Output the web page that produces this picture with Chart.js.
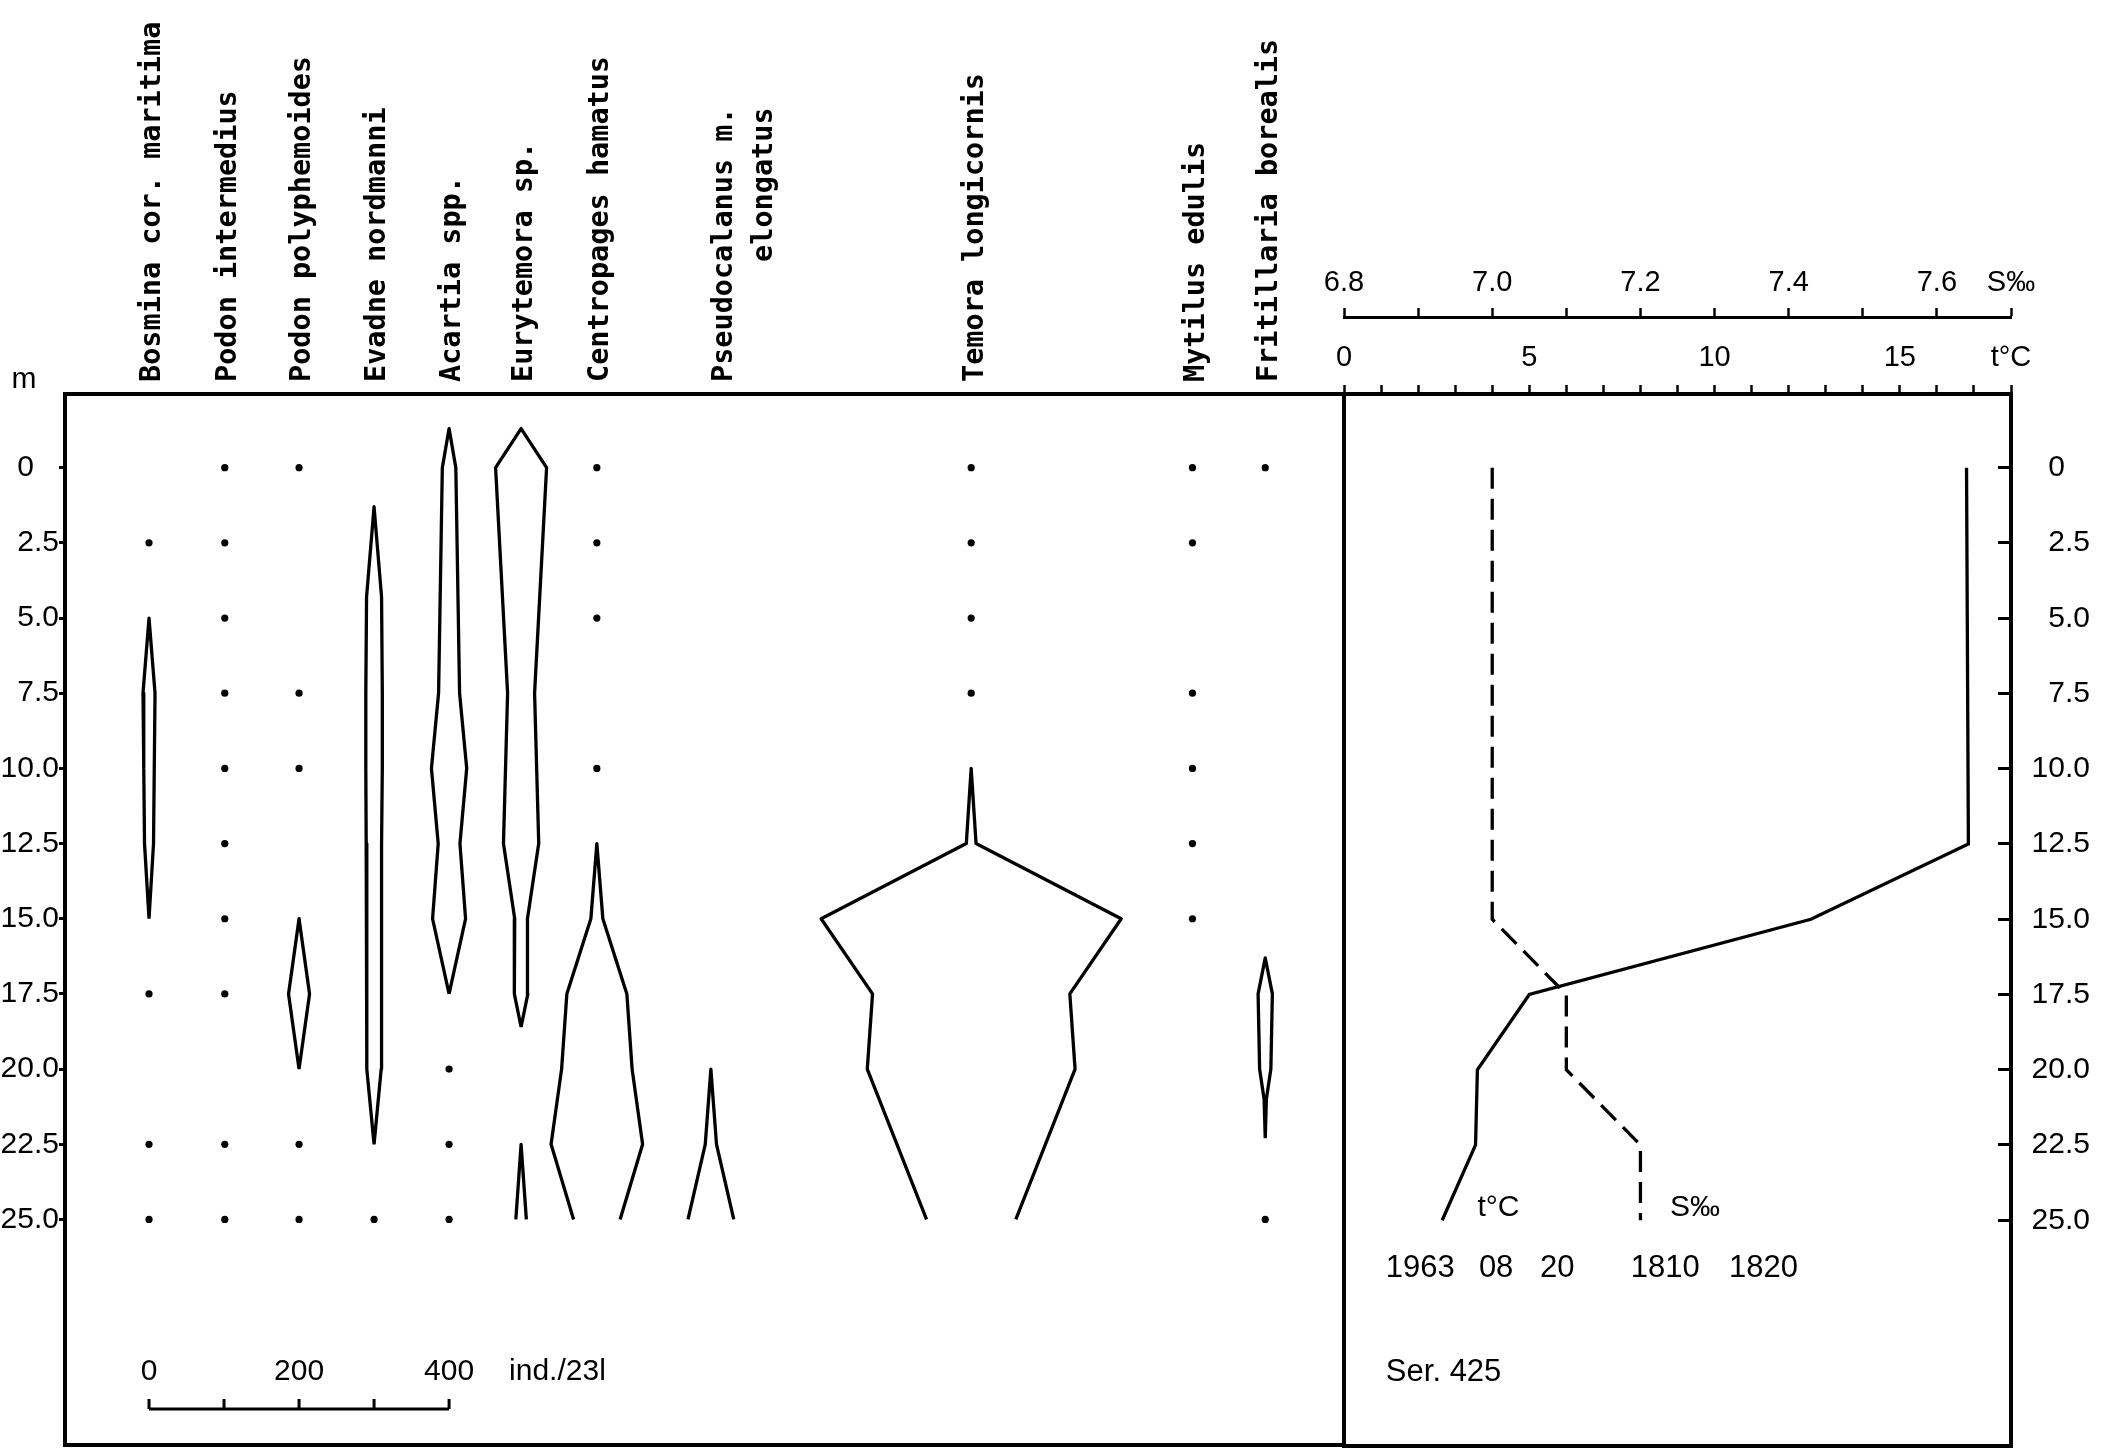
<!DOCTYPE html>
<html>
<head>
<meta charset="utf-8">
<script src="https://cdn.jsdelivr.net/npm/chart.js@4.4.1/dist/chart.umd.min.js"></script>
<style>
  html, body { margin: 0; padding: 0; background: #fff; }
  #wrap { position: relative; width: 2107px; height: 1449px; overflow: hidden; background: #fff; }
  canvas { position: absolute; top: 0; }
</style>
</head>
<body>
<div id="wrap">
  <canvas id="leftChart" width="1350" height="1449" style="left:0px"></canvas>
  <canvas id="rightChart" width="817" height="1449" style="left:1290px"></canvas>
</div>
<script>
// ---------------- data ----------------
const DEPTH_TICKS  = [0, 2.5, 5, 7.5, 10, 12.5, 15, 17.5, 20, 22.5, 25];
const DEPTH_LABELS = ['0   ', '2.5', '5.0', '7.5', '10.0', '12.5', '15.0', '17.5', '20.0', '22.5', '25.0'];

const SPECIES = ['Bosmina cor. maritima', 'Podon intermedius', 'Podon polyphemoides', 'Evadne nordmanni',
  'Acartia spp.', 'Eurytemora sp.', 'Centropages hamatus', ['Pseudocalanus m.', 'elongatus'],
  'Temora longicornis', 'Mytilus edulis', 'Fritillaria borealis'];

// kite profiles: depth (m) and abundance (ind./23 l)
const bosminaDepth = [5, 7.5, 10, 12.5, 15];
const bosminaInd   = [0, 16, 14, 12, 0];
const podonPolyDepth = [15, 17.5, 20];
const podonPolyInd   = [0, 28, 0];
const evadneDepth = [1.3, 4.3, 7.5, 10, 12.5, 15, 17.5, 20, 22.5];
const evadneInd   = [0, 20, 22, 22, 21, 20, 19, 19, 0];
const acartiaDepth = [-1.3, 0, 7.5, 10, 12.5, 15, 17.5];
const acartiaInd   = [0, 18, 28, 47, 29, 44, 0];
const eurytemoraDepth = [-1.3, 0, 7.5, 12.5, 15, 17.5, 18.6];
const eurytemoraInd   = [0, 68, 36, 47, 17, 18, 0];
const eurytemoraDeepDepth = [22.5, 25];
const eurytemoraDeepInd   = [0, 14];
const centropagesDepth = [12.5, 15, 17.5, 20, 22.5, 25];
const centropagesInd   = [0, 16, 80, 94, 122, 62];
const pseudocalanusDepth = [20, 22.5, 25];
const pseudocalanusInd   = [0, 15, 61];
const temoraDepth = [10, 12.5, 15, 17.5, 20, 25];
const temoraInd   = [0, 13, 400, 263, 277, 119];
const fritillariaDepth = [16.3, 17.5, 20, 21, 22.3];
const fritillariaInd   = [0, 19, 15, 3, 0];

// depths sampled with no catch (dots)
const bosminaZero     = [2.5, 17.5, 22.5, 25];
const podonIntZero    = [0, 2.5, 5, 7.5, 10, 12.5, 15, 17.5, 22.5, 25];
const podonPolyZero   = [0, 7.5, 10, 22.5, 25];
const evadneZero      = [25];
const acartiaZero     = [20, 22.5, 25];
const centropagesZero = [0, 2.5, 5, 10];
const temoraZero      = [0, 2.5, 5, 7.5];
const mytilusZero     = [0, 2.5, 7.5, 10, 12.5, 15];
const fritillariaZero = [0, 25];

// hydrography
const CTD_DEPTH = [0, 12.5, 15, 17.5, 20, 22.5, 25];
const TEMP_C    = [16.8, 16.85, 12.6, 5.0, 3.6, 3.55, 2.65];
const SAL_DEPTH = [0, 15, 17.5, 20, 22.5, 25];
const SALINITY  = [7.0, 7.0, 7.1, 7.1, 7.2, 7.2];

const TEMP_TICKS  = [0, 1, 2, 3, 4, 5, 6, 7, 8, 9, 10, 11, 12, 13, 14, 15, 16, 17, 18];
const TEMP_LABELS = ['0', '', '', '', '', '5', '', '', '', '', '10', '', '', '', '', '15', '', '', 't°C'];
const SAL_TICKS   = [6.8, 6.9, 7.0, 7.1, 7.2, 7.3, 7.4, 7.5, 7.6, 7.7];
const SAL_LABELS  = ['6.8', '', '7.0', '', '7.2', '', '7.4', '', '7.6', 'S‰'];

const SCALE_TICKS  = [0, 100, 200, 300, 400];
const SCALE_LABELS = ['0', '', '200', '', '400'];
const SCALE_UNIT   = 'ind./23l';
const STATION_PARTS = ['1963', '08', '20', '1810', '1820'];
const SERIES_TEXT   = 'Ser. 425';

// ---------------- layout ----------------
const COLUMN_X = [0, 101, 200, 300, 400, 496, 597, 749, 1096, 1391, 1488]; // column centres on the ind. axis
const STATION_X = [1.13, 3.64, 5.29, 7.74, 10.39];                            // text anchors on the t°C axis
const IND_MIN = -112, IND_MAX = 1593;
const DEPTH_MIN = -2.45, DEPTH_MAX = 32.5;
const INK = '#000';
const NUM_FONT = "'Liberation Sans', Arial, sans-serif";
const LABEL_FONT = "'DejaVu Sans Mono', 'Liberation Mono', monospace";

const KITES = [
  {col: 0, d: bosminaDepth, v: bosminaInd},
  {col: 2, d: podonPolyDepth, v: podonPolyInd},
  {col: 3, d: evadneDepth, v: evadneInd},
  {col: 4, d: acartiaDepth, v: acartiaInd},
  {col: 5, d: eurytemoraDepth, v: eurytemoraInd},
  {col: 5, d: eurytemoraDeepDepth, v: eurytemoraDeepInd},
  {col: 6, d: centropagesDepth, v: centropagesInd},
  {col: 7, d: pseudocalanusDepth, v: pseudocalanusInd},
  {col: 8, d: temoraDepth, v: temoraInd},
  {col: 10, d: fritillariaDepth, v: fritillariaInd}
];
const ZEROS = [
  {col: 0, d: bosminaZero}, {col: 1, d: podonIntZero}, {col: 2, d: podonPolyZero},
  {col: 3, d: evadneZero}, {col: 4, d: acartiaZero}, {col: 6, d: centropagesZero},
  {col: 8, d: temoraZero}, {col: 9, d: mytilusZero}, {col: 10, d: fritillariaZero}
];

function kitePoints(k) {
  const c = COLUMN_X[k.col];
  const right = k.d.map((dd, i) => ({x: c + k.v[i] / 2, y: dd})).reverse();
  const left  = k.d.map((dd, i) => ({x: c - k.v[i] / 2, y: dd}));
  return right.concat(left);
}

const leftDatasets = KITES.map(k => ({
  data: kitePoints(k), showLine: true, borderColor: INK, borderWidth: 3.3,
  pointRadius: 0, borderJoinStyle: 'round', fill: false, tension: 0
}));
const dotPoints = [];
ZEROS.forEach(z => z.d.forEach(dd => dotPoints.push({x: COLUMN_X[z.col], y: dd})));
leftDatasets.push({data: dotPoints, showLine: false, pointRadius: 3.6,
  pointBackgroundColor: INK, pointBorderWidth: 0, borderColor: INK});

// no extra layout padding for edge tick labels
function noEdgePad(s) { s.paddingLeft = 0; s.paddingRight = 0; s.paddingTop = 0; s.paddingBottom = 0; }

// ---------------- plugins ----------------
const framePlugin = {
  id: 'frame',
  afterDraw(chart) {
    const a = chart.chartArea, ctx = chart.ctx;
    ctx.save();
    ctx.strokeStyle = INK; ctx.lineWidth = 4;
    ctx.strokeRect(a.left, a.top, a.right - a.left, a.bottom - a.top);
    ctx.restore();
  }
};

const speciesPlugin = {
  id: 'species',
  afterDraw(chart) {
    const ctx = chart.ctx, xs = chart.scales.x, ys = chart.scales.y, a = chart.chartArea;
    ctx.save();
    ctx.fillStyle = INK;
    ctx.font = "bold 28.5px " + LABEL_FONT;
    ctx.textBaseline = 'middle';
    const y0 = a.top - 12;
    SPECIES.forEach((name, i) => {
      const lines = Array.isArray(name) ? name : [name];
      const x = xs.getPixelForValue(COLUMN_X[i]) + (lines.length > 1 ? 14 : 4);
      ctx.save();
      ctx.translate(x, y0);
      ctx.rotate(-Math.PI / 2);
      ctx.textAlign = 'left';
      ctx.fillText(lines[0], 0, 0);
      if (lines.length > 1) {
        const w = ctx.measureText(lines[0]).width;
        ctx.textAlign = 'right';
        ctx.fillText(lines[1], w, 40);
      }
      ctx.restore();
    });
    // depth unit
    ctx.font = "30px " + NUM_FONT;
    ctx.textAlign = 'center';
    ctx.fillText('m', a.left - 41, a.top - 14);
    // scale bar
    const yBar = ys.getPixelForValue(31.3);
    const yLab = ys.getPixelForValue(30.06);
    const x0 = xs.getPixelForValue(SCALE_TICKS[0]);
    const x1 = xs.getPixelForValue(SCALE_TICKS[SCALE_TICKS.length - 1]);
    ctx.strokeStyle = INK; ctx.lineWidth = 3;
    ctx.beginPath();
    ctx.moveTo(x0, yBar); ctx.lineTo(x1, yBar);
    SCALE_TICKS.forEach(t => {
      const xt = xs.getPixelForValue(t);
      ctx.moveTo(xt, yBar); ctx.lineTo(xt, yBar - 10);
    });
    ctx.stroke();
    ctx.font = "30px " + NUM_FONT;
    ctx.textAlign = 'center';
    SCALE_TICKS.forEach((t, i) => {
      if (SCALE_LABELS[i]) ctx.fillText(SCALE_LABELS[i], xs.getPixelForValue(t), yLab);
    });
    ctx.textAlign = 'left';
    ctx.fillText(SCALE_UNIT, xs.getPixelForValue(480), yLab);
    ctx.restore();
  }
};

const rightTextPlugin = {
  id: 'rightText',
  afterDraw(chart) {
    const ctx = chart.ctx, xT = chart.scales.xT, xS = chart.scales.xS, y = chart.scales.y;
    ctx.save();
    ctx.fillStyle = INK;
    ctx.font = "30px " + NUM_FONT;
    ctx.textBaseline = 'middle';
    ctx.textAlign = 'left';
    ctx.fillText('t°C', xT.getPixelForValue(3.6), y.getPixelForValue(24.6));
    ctx.fillText('S‰', xS.getPixelForValue(7.24), y.getPixelForValue(24.6));
    ctx.font = "31px " + NUM_FONT;
    STATION_PARTS.forEach((t, i) => ctx.fillText(t, xT.getPixelForValue(STATION_X[i]), y.getPixelForValue(26.6)));
    ctx.fillText(SERIES_TEXT, xT.getPixelForValue(STATION_X[0]), y.getPixelForValue(30.06));
    ctx.restore();
  }
};

// ---------------- left chart ----------------
new Chart(document.getElementById('leftChart'), {
  type: 'scatter',
  data: {datasets: leftDatasets},
  options: {
    responsive: false, animation: false, devicePixelRatio: 1,
    layout: {padding: {top: 0, right: 6, bottom: 3, left: 0}},
    plugins: {legend: {display: false}, tooltip: {enabled: false}},
    scales: {
      x: {
        type: 'linear', position: 'top', min: IND_MIN, max: IND_MAX,
        ticks: {display: false}, grid: {display: false, drawTicks: false}, border: {display: false},
        afterFit: s => { noEdgePad(s); s.height = 394; }
      },
      y: {
        type: 'linear', position: 'left', reverse: true, min: DEPTH_MIN, max: DEPTH_MAX,
        afterBuildTicks: s => { s.ticks = DEPTH_TICKS.map(v => ({value: v})); },
        ticks: {autoSkip: false, color: INK, padding: 0, font: {family: NUM_FONT, size: 30},
          callback: (v, i) => DEPTH_LABELS[i]},
        grid: {display: true, drawOnChartArea: false, drawTicks: true, tickLength: 6, tickWidth: 3, tickColor: INK, color: INK},
        border: {display: false},
        afterFit: s => { noEdgePad(s); s.width = 65; }
      }
    }
  },
  plugins: [framePlugin, speciesPlugin]
});

// ---------------- right chart ----------------
new Chart(document.getElementById('rightChart'), {
  type: 'scatter',
  data: {datasets: [
    {data: CTD_DEPTH.map((d, i) => ({x: TEMP_C[i], y: d})), xAxisID: 'xT', yAxisID: 'y',
     showLine: true, borderColor: INK, borderWidth: 3.3, pointRadius: 0, tension: 0, fill: false},
    {data: SAL_DEPTH.map((d, i) => ({x: SALINITY[i], y: d})), xAxisID: 'xS', yAxisID: 'y',
     showLine: true, borderColor: INK, borderWidth: 3.3, borderDash: [21, 10], pointRadius: 0, tension: 0, fill: false}
  ]},
  options: {
    responsive: false, animation: false, devicePixelRatio: 1,
    layout: {padding: {top: 0, right: 17, bottom: 3, left: 54}},
    plugins: {legend: {display: false}, tooltip: {enabled: false}},
    scales: {
      xT: {
        type: 'linear', position: 'top', min: 0, max: 18, weight: 0,
        afterBuildTicks: s => { s.ticks = TEMP_TICKS.map(v => ({value: v})); },
        ticks: {autoSkip: false, maxRotation: 0, minRotation: 0, color: INK, padding: 10,
          font: {family: NUM_FONT, size: 29}, callback: (v, i) => TEMP_LABELS[i]},
        grid: {display: true, drawOnChartArea: false, drawTicks: true, tickLength: 9, tickWidth: 2.5, tickColor: INK, color: INK},
        border: {display: true, width: 4, color: INK},
        afterFit: s => { noEdgePad(s); s.height = 77; }
      },
      xS: {
        type: 'linear', position: 'top', min: 6.8, max: 7.7, weight: 1,
        afterBuildTicks: s => { s.ticks = SAL_TICKS.map(v => ({value: v})); },
        ticks: {autoSkip: false, maxRotation: 0, minRotation: 0, color: INK, padding: 8,
          font: {family: NUM_FONT, size: 29}, callback: (v, i) => SAL_LABELS[i]},
        grid: {display: true, drawOnChartArea: false, drawTicks: true, tickLength: 9, tickWidth: 2.5, tickColor: INK, color: INK},
        border: {display: true, width: 3, color: INK},
        afterFit: s => { noEdgePad(s); s.height = 317; }
      },
      y: {
        type: 'linear', position: 'right', reverse: true, min: DEPTH_MIN, max: DEPTH_MAX,
        afterBuildTicks: s => { s.ticks = DEPTH_TICKS.map(v => ({value: v})); },
        ticks: {autoSkip: false, color: INK, crossAlign: 'far', padding: 4,
          font: {family: NUM_FONT, size: 30}, callback: (v, i) => DEPTH_LABELS[i]},
        grid: {display: true, drawOnChartArea: false, drawTicks: true, tickLength: -13, tickWidth: 3, tickColor: INK, color: INK},
        border: {display: false},
        afterFit: s => { noEdgePad(s); s.width = 79; }
      }
    }
  },
  plugins: [framePlugin, rightTextPlugin]
});
</script>
</body>
</html>
